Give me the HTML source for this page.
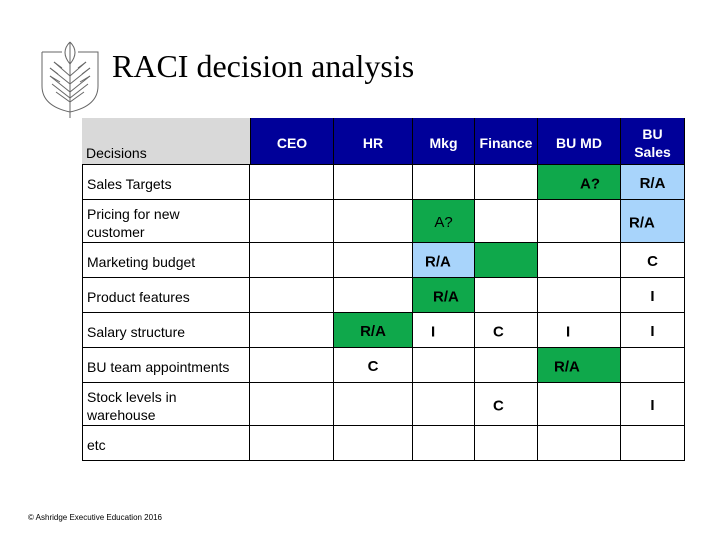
<!DOCTYPE html>
<html><head><style>
body{margin:0;width:720px;height:540px;background:#fff;position:relative;overflow:hidden;font-family:"Liberation Sans",Arial,sans-serif}
.c{position:absolute;box-sizing:border-box;border-right:1px solid #000;border-bottom:1px solid #000;font-size:14px;color:#000}
.t{position:absolute;font-size:14px}
.b{font-weight:bold;font-size:15px}
.h{background:#000099;color:#fff;font-weight:bold;font-size:14px;text-align:center}
.g{background:#0fa84b}
.lb{background:#a8d4fb}
</style></head><body>
<svg style="position:absolute;left:40px;top:40px" width="60" height="80" viewBox="0 0 60 80">
<g fill="none" stroke="#666" stroke-width="1">
<path d="M2 12 L22 12 M38 12 L58 12 L58 46 Q58 66 30 72 Q2 66 2 46 L2 12"/>
<path d="M30 2 L30 78"/>
<path d="M30 2 Q40 12 30 24 Q20 12 30 2"/>
<path d="M14 22 L30 36 L46 22 M10 28 L30 44 L50 28 M10 36 L30 52 L50 36 M12 44 L30 58 L48 44 M16 52 L30 62 L44 52"/>
<path d="M14 22 L22 28 M46 22 L38 28 M10 28 L18 34 M50 28 L42 34 M10 36 L20 42 M50 36 L40 42"/>
</g></svg>
<div class="t" style="left:112px;top:48px;font-family:'Liberation Serif',serif;font-size:32px">RACI decision analysis</div>
<div id="tbl"></div>
<div class="t" style="left:28px;top:513px;font-size:8px">© Ashridge Executive Education 2016</div>
<script>
var xs=[82,250,334,413,475,538,621,685],ys=[118,165,200,243,278,313,348,383,426,461];
var heads=["CEO","HR","Mkg","Finance","BU MD","BU<br>Sales"];
var rows=["Sales Targets","Pricing for new<br>customer","Marketing budget","Product features","Salary structure","BU team appointments","Stock levels in<br>warehouse","etc"];
var cells={"0,4":["g","A?","right:20px"],"0,5":["lb","R/A",""],"1,2":["g","<span style='font-weight:normal'>A?</span>",""],"1,5":["lb","R/A","left:8px"],
"2,2":["lb","R/A","left:12px"],"2,3":["g","",""],"2,5":["","C",""],"3,2":["g","R/A","left:20px"],"3,5":["","I",""],
"4,1":["g","R/A",""],"4,2":["","I","left:18px"],"4,3":["","C","left:18px"],"4,4":["","I","left:28px"],"4,5":["","I",""],
"5,1":["","C",""],"5,4":["g","R/A","left:16px"],"6,3":["","C","left:18px"],"6,5":["","I",""]};
var h="";
h+='<div class="c" style="left:82px;top:118px;width:168px;height:47px;background:#d9d9d9;border-right:none;"><div class="t" style="left:4px;top:27px">Decisions</div></div>';
for(var j=0;j<6;j++){h+='<div class="c h" style="left:'+xs[j+1]+'px;top:118px;width:'+(xs[j+2]-xs[j+1])+'px;height:47px;display:flex;align-items:center;justify-content:center;line-height:18px;padding-top:3px;'+(j==0?'border-left:1px solid #000;':'')+'">'+heads[j]+'</div>';}
for(var i=0;i<8;i++){var y=ys[i+1],hh=ys[i+2]-ys[i+1];
h+='<div class="c" style="left:82px;top:'+y+'px;width:168px;height:'+hh+'px;border-left:1px solid #000;display:flex;align-items:center;padding-left:4px;padding-top:3px;line-height:18px">'+rows[i]+'</div>';
for(var j=0;j<6;j++){var k=cells[i+","+j]||["","",""];var st=k[2]?'position:absolute;'+k[2]+';top:calc(50% + 2px);transform:translateY(-50%)':'';
h+='<div class="c b '+k[0]+'" style="left:'+xs[j+1]+'px;top:'+y+'px;width:'+(xs[j+2]-xs[j+1])+'px;height:'+hh+'px;display:flex;align-items:center;justify-content:center;padding-top:3px"><span style="'+st+'">'+k[1]+'</span></div>';}}
document.getElementById("tbl").innerHTML=h;
</script>
</body></html>
